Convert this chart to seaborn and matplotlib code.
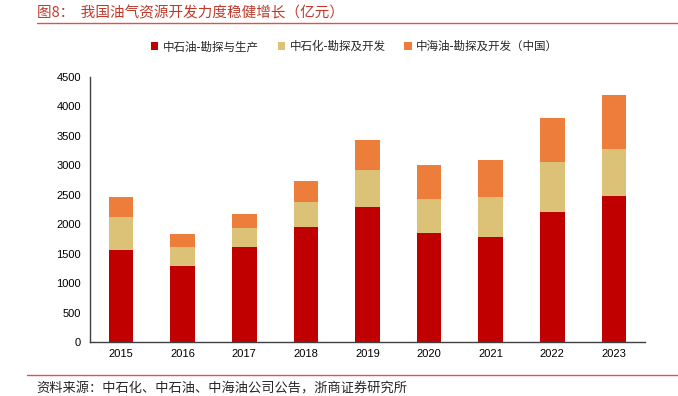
import numpy as np
import pandas as pd
import matplotlib
matplotlib.use("Agg")
import matplotlib.pyplot as plt
import seaborn as sns
from matplotlib.lines import Line2D
from matplotlib.patches import Patch

# --- data (亿元) ---
years = ['2015', '2016', '2017', '2018', '2019', '2020', '2021', '2022', '2023']
cnpc = [1571, 1290, 1613, 1953, 2292, 1856, 1778, 2207, 2479]      # 中石油-勘探与生产
sinopec = [560, 332, 323, 424, 629, 572, 684, 844, 793]            # 中石化-勘探及开发
cnooc = [331, 212, 237, 357, 509, 572, 634, 753, 922]              # 中海油-勘探及开发（中国）
series_names = ['中石油-勘探与生产', '中石化-勘探及开发', '中海油-勘探及开发（中国）']
colors = ['#C00000', '#DBC277', '#ED7D3B']

sns.set_style('white')
plt.rcParams['font.family'] = ['Liberation Sans', 'Noto Sans CJK SC', 'DejaVu Sans']
cjk = ['Noto Sans CJK SC', 'DejaVu Sans']

df = pd.DataFrame({'year': years, 'a': cnpc, 'b': sinopec, 'c': cnooc})
df['ab'] = df['a'] + df['b']
df['abc'] = df['ab'] + df['c']

fig = plt.figure(figsize=(6.78, 3.96), dpi=100)
ax = fig.add_axes([0.133, 0.136, 0.818, 0.670])

# stack by drawing cumulative totals from the top down
for col, c in zip(['abc', 'ab', 'a'], colors[::-1]):
    sns.barplot(data=df, x='year', y=col, color=c, width=0.4, ax=ax,
                saturation=1, edgecolor='none')

ax.set_xlim(-0.5, 8.5)
ax.set_ylim(0, 4500)
ax.set_yticks(np.arange(0, 4501, 500))
ax.set_xlabel('')
ax.set_ylabel('')
ax.tick_params(axis='both', labelsize=8, colors='#000000')
ax.tick_params(axis='x', which='major', length=0, pad=5)
ax.set_xticks(np.arange(-0.5, 9, 1), minor=True)
ax.tick_params(axis='x', which='minor', length=4, direction='out', color='#404040')
ax.tick_params(axis='y', length=3, direction='out', color='#404040')
for s in ['top', 'right']:
    ax.spines[s].set_visible(False)
for s in ['left', 'bottom']:
    ax.spines[s].set_color('#404040')
    ax.spines[s].set_linewidth(1.0)

handles = [Patch(facecolor=c, edgecolor='none') for c in colors]
fig.legend(handles, series_names, loc='center', bbox_to_anchor=(0.523, 0.882),
           ncol=3, frameon=False, prop={'family': cjk, 'size': 8.3},
           handlelength=0.65, handleheight=0.65, handletextpad=0.4, columnspacing=1.6)

# title and source
fig.text(0.055, 0.985, '图8：  我国油气资源开发力度稳健增长（亿元）', color='#C0392B',
         fontsize=10.5, family=cjk, va='top', ha='left')
fig.add_artist(Line2D([0.054, 1.0], [0.942, 0.942], color='#D9534F', lw=1.0,
                      transform=fig.transFigure))
fig.add_artist(Line2D([0.04, 1.0], [0.053, 0.053], color='#D9534F', lw=1.0,
                      transform=fig.transFigure))
fig.text(0.054, 0.017, '资料来源：中石化、中石油、中海油公司公告，浙商证券研究所',
         fontsize=9.5, family=cjk, va='center', ha='left')

fig.savefig('out.png', dpi=100)
